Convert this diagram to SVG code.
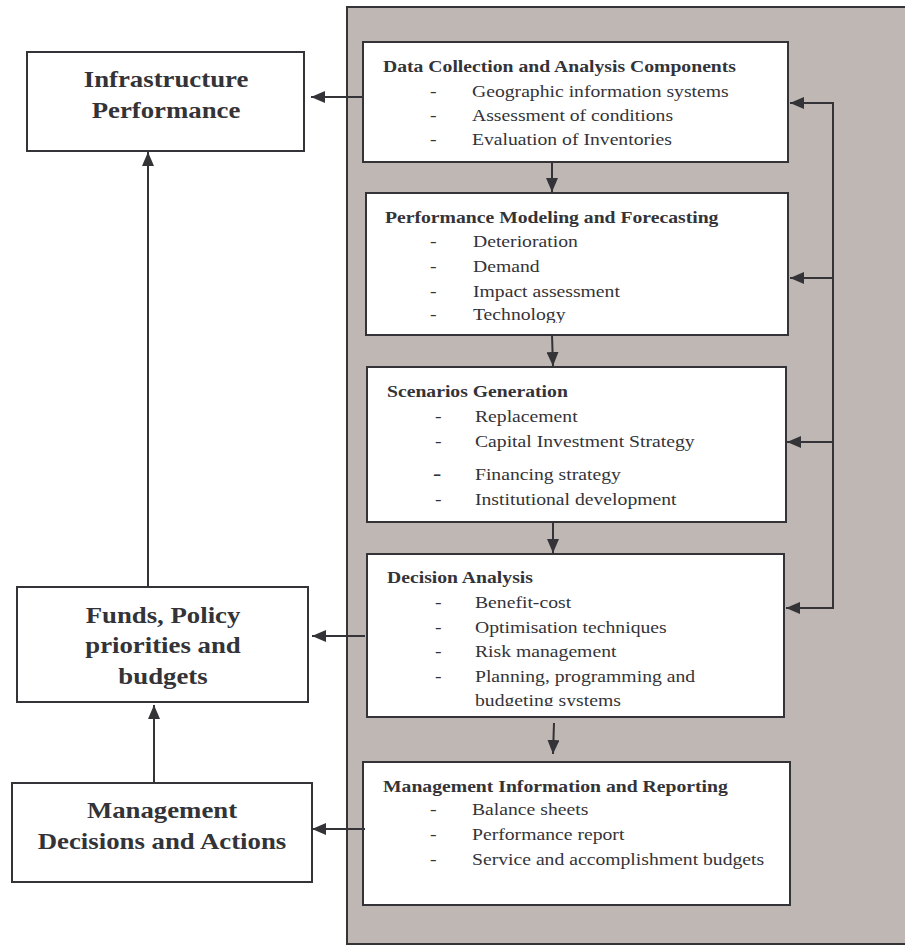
<svg xmlns="http://www.w3.org/2000/svg" width="905" height="945" viewBox="0 0 905 945">
<style>
.box{fill:#fff;stroke:#333338;stroke-width:2}
.panel{fill:#bfb7b4;stroke:#333338;stroke-width:2}
.ln{fill:none;stroke:#333338;stroke-width:2}
.big{font-family:"Liberation Serif","Times New Roman",serif;font-weight:bold;font-size:23px;fill:#333338;text-anchor:middle}
.ttl{font-family:"Liberation Serif","Times New Roman",serif;font-weight:bold;font-size:17.5px;fill:#333338}
.it{font-family:"Liberation Serif","Times New Roman",serif;font-size:17.5px;fill:#333338}
</style>
<defs>
<marker id="ah" viewBox="0 0 14 12" refX="14" refY="6" markerWidth="14" markerHeight="12" markerUnits="userSpaceOnUse" orient="auto">
<path d="M0,0 L14,6 L0,12 Z" fill="#333338"/>
</marker>
<clipPath id="c2"><rect x="366" y="193" width="422" height="130"/></clipPath>
<clipPath id="c4"><rect x="367" y="554" width="417" height="152"/></clipPath>
</defs>
<rect class="panel" x="347" y="7" width="600" height="937"/>
<g id="infra">
<rect class="box" x="27" y="52" width="277" height="99"/>
<g transform="translate(166,0) scale(1.165,1)">
<text class="big" x="0" y="87">Infrastructure</text>
<text class="big" x="0" y="118">Performance</text>
</g>
</g>
<g id="funds">
<rect class="box" x="17" y="587" width="291" height="115"/>
<g transform="translate(163,0) scale(1.165,1)">
<text class="big" x="0" y="623">Funds, Policy</text>
<text class="big" x="0" y="653">priorities and</text>
<text class="big" x="0" y="684">budgets</text>
</g>
</g>
<g id="mgmt">
<rect class="box" x="12" y="783" width="300" height="99"/>
<g transform="translate(162,0) scale(1.165,1)">
<text class="big" x="0" y="818">Management</text>
<text class="big" x="0" y="849">Decisions and Actions</text>
</g>
</g>
<g id="data">
<rect class="box" x="363" y="42" width="425" height="120"/>
<g transform="translate(383,0) scale(1.125,1)">
<text class="ttl" x="0" y="72">Data Collection and Analysis Components</text>
<text class="it" x="41.8" y="97">-</text><text class="it" x="79.1" y="97">Geographic information systems</text>
<text class="it" x="41.8" y="121">-</text><text class="it" x="79.1" y="121">Assessment of conditions</text>
<text class="it" x="41.8" y="145">-</text><text class="it" x="79.1" y="145">Evaluation of Inventories</text>
</g>
</g>
<g id="model">
<rect class="box" x="366" y="193" width="422" height="142"/>
<g clip-path="url(#c2)">
<g transform="translate(385,0) scale(1.125,1)">
<text class="ttl" x="0" y="223">Performance Modeling and Forecasting</text>
<text class="it" x="40" y="247">-</text><text class="it" x="78.2" y="247">Deterioration</text>
<text class="it" x="40" y="272">-</text><text class="it" x="78.2" y="272">Demand</text>
<text class="it" x="40" y="297">-</text><text class="it" x="78.2" y="297">Impact assessment</text>
<text class="it" x="40" y="320">-</text><text class="it" x="78.2" y="320">Technology</text>
</g>
</g>
</g>
<g id="scen">
<rect class="box" x="367" y="367" width="419" height="155"/>
<g transform="translate(387,0) scale(1.125,1)">
<text class="ttl" x="0" y="397">Scenarios Generation</text>
<text class="it" x="42.7" y="422">-</text><text class="it" x="78.2" y="422">Replacement</text>
<text class="it" x="42.7" y="447">-</text><text class="it" x="78.2" y="447">Capital Investment Strategy</text>
<text class="it" x="41" y="480" style="font-size:22px">-</text><text class="it" x="78.2" y="480">Financing strategy</text>
<text class="it" x="42.7" y="505">-</text><text class="it" x="78.2" y="505">Institutional development</text>
</g>
</g>
<g id="decision">
<rect class="box" x="367" y="554" width="417" height="163"/>
<g clip-path="url(#c4)">
<g transform="translate(387,0) scale(1.125,1)">
<text class="ttl" x="0" y="583">Decision Analysis</text>
<text class="it" x="42.7" y="608">-</text><text class="it" x="78.2" y="608">Benefit-cost</text>
<text class="it" x="42.7" y="633">-</text><text class="it" x="78.2" y="633">Optimisation techniques</text>
<text class="it" x="42.7" y="657">-</text><text class="it" x="78.2" y="657">Risk management</text>
<text class="it" x="42.7" y="682">-</text><text class="it" x="78.2" y="682">Planning, programming and</text>
<text class="it" x="78.2" y="706">budgeting systems</text>
</g>
</g>
</g>
<g id="report">
<rect class="box" x="363" y="762" width="427" height="143"/>
<g transform="translate(383,0) scale(1.125,1)">
<text class="ttl" x="0" y="792">Management Information and Reporting</text>
<text class="it" x="41.8" y="815">-</text><text class="it" x="79.1" y="815">Balance sheets</text>
<text class="it" x="41.8" y="840">-</text><text class="it" x="79.1" y="840">Performance report</text>
<text class="it" x="41.8" y="865">-</text><text class="it" x="79.1" y="865">Service and accomplishment budgets</text>
</g>
</g>
<g id="connectors">
<line class="ln" x1="362" y1="97" x2="311" y2="97" marker-end="url(#ah)"/>
<line class="ln" x1="365" y1="636" x2="312" y2="636" marker-end="url(#ah)"/>
<line class="ln" x1="365" y1="829" x2="312" y2="829" marker-end="url(#ah)"/>
<line class="ln" x1="148" y1="587" x2="148" y2="152" marker-end="url(#ah)"/>
<line class="ln" x1="154" y1="783" x2="154" y2="705" marker-end="url(#ah)"/>
<line class="ln" x1="552" y1="162" x2="552" y2="192" marker-end="url(#ah)"/>
<line class="ln" x1="552" y1="335" x2="553" y2="366" marker-end="url(#ah)"/>
<line class="ln" x1="553" y1="522" x2="553" y2="553" marker-end="url(#ah)"/>
<line class="ln" x1="554" y1="723" x2="553" y2="754" marker-end="url(#ah)"/>
<polyline class="ln" points="790,103 833,103 833,608 790,608"/>
<line class="ln" x1="833" y1="103" x2="790" y2="103" marker-end="url(#ah)"/>
<line class="ln" x1="833" y1="278" x2="790" y2="278" marker-end="url(#ah)"/>
<line class="ln" x1="833" y1="442" x2="787" y2="442" marker-end="url(#ah)"/>
<line class="ln" x1="833" y1="608" x2="786" y2="608" marker-end="url(#ah)"/>
</g>
</svg>
